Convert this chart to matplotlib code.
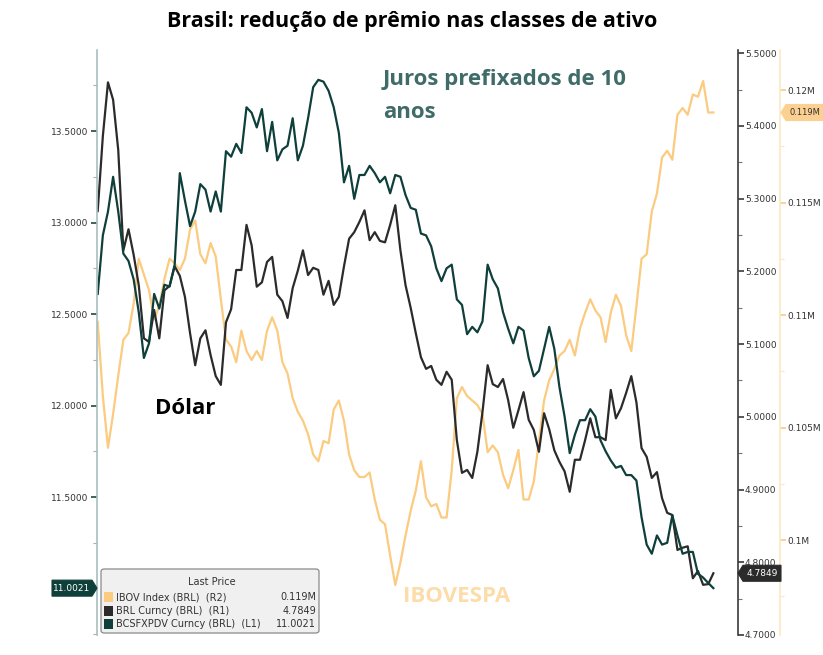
import matplotlib.pyplot as plt
import matplotlib.ticker as mticker
from matplotlib.patches import FancyBboxPatch, Polygon

# semanal, mesmo eixo de datas para as tres series
bcsfxpdv = [12.61, 12.93, 13.06, 13.25, 13.06, 12.83, 12.79, 12.69, 12.51, 12.26,
            12.34, 12.61, 12.53, 12.66, 12.65, 12.77, 13.27, 13.12, 12.98, 13.06,
            13.21, 13.18, 13.06, 13.17, 13.06, 13.39, 13.36, 13.43, 13.38, 13.63,
            13.60, 13.52, 13.62, 13.39, 13.55, 13.34, 13.40, 13.42, 13.57, 13.34,
            13.42, 13.57, 13.74, 13.78, 13.77, 13.72, 13.63, 13.49, 13.22, 13.31,
            13.13, 13.26, 13.26, 13.31, 13.27, 13.22, 13.25, 13.16, 13.26, 13.25,
            13.15, 13.08, 13.07, 12.94, 12.93, 12.87, 12.75, 12.68, 12.75, 12.77,
            12.58, 12.55, 12.39, 12.43, 12.40, 12.46, 12.77, 12.69, 12.64, 12.51,
            12.42, 12.34, 12.43, 12.41, 12.26, 12.16, 12.19, 12.31, 12.43, 12.31,
            12.10, 11.94, 11.74, 11.84, 11.92, 11.92, 11.98, 11.94, 11.81, 11.75,
            11.70, 11.66, 11.67, 11.62, 11.62, 11.59, 11.39, 11.24, 11.19, 11.29,
            11.24, 11.25, 11.40, 11.29, 11.19, 11.20, 11.20, 11.08, 11.06, 11.03,
            11.0021]

brl = [5.283, 5.386, 5.460, 5.436, 5.367, 5.229, 5.258, 5.223, 5.181, 5.108,
       5.103, 5.147, 5.108, 5.174, 5.180, 5.207, 5.194, 5.165, 5.115, 5.071,
       5.108, 5.119, 5.085, 5.056, 5.044, 5.130, 5.148, 5.202, 5.202, 5.264,
       5.236, 5.179, 5.185, 5.213, 5.220, 5.168, 5.159, 5.136, 5.177, 5.201,
       5.229, 5.195, 5.205, 5.202, 5.168, 5.187, 5.154, 5.165, 5.207, 5.245,
       5.254, 5.268, 5.284, 5.243, 5.254, 5.242, 5.240, 5.264, 5.291, 5.229,
       5.181, 5.150, 5.115, 5.082, 5.066, 5.070, 5.051, 5.044, 5.062, 5.051,
       4.968, 4.923, 4.927, 4.916, 4.952, 5.007, 5.071, 5.045, 5.041, 5.052,
       5.023, 4.985, 5.009, 5.034, 4.996, 4.982, 4.952, 5.005, 4.983, 4.954,
       4.938, 4.925, 4.897, 4.941, 4.941, 4.968, 4.998, 4.972, 4.972, 4.968,
       5.037, 4.998, 5.012, 5.033, 5.056, 5.020, 4.957, 4.945, 4.916, 4.924,
       4.888, 4.868, 4.865, 4.817, 4.820, 4.822, 4.778, 4.788, 4.769, 4.770,
       4.7849]

ibov = [109700, 106400, 104100, 105600, 107300, 108900, 109200, 110500, 112500, 111800,
        111100, 109800, 110400, 111600, 112500, 112300, 112000, 112500, 113800, 114200,
        112700, 112300, 113200, 112600, 110700, 108900, 108600, 107900, 109300, 108400,
        108000, 108400, 108000, 109300, 109900, 109300, 107900, 107400, 106300, 105700,
        105300, 104700, 103800, 103500, 104400, 104300, 105800, 106200, 105300, 103800,
        103100, 102800, 102800, 103000, 101800, 100900, 100700, 99300, 98000, 99000,
        100200, 101300, 102200, 103500, 101900, 101500, 101600, 101000, 101000, 103100,
        106300, 106800, 106400, 106200, 106000, 105600, 103900, 104200, 103900, 102900,
        102300, 103100, 104000, 101800, 101800, 102600, 104400, 106200, 107100, 107600,
        108200, 108400, 108900, 108200, 109400, 110100, 110700, 110200, 109900, 108800,
        110100, 110900, 110400, 109100, 108400, 110400, 112500, 112700, 114600, 115400,
        117000, 117300, 116900, 118900, 119200, 118900, 119800, 119700, 120400, 119000,
        119000]

semanas = list(range(len(bcsfxpdv)))

legenda = ['IBOV Index (BRL)  (R2)', 'BRL Curncy (BRL)  (R1)', 'BCSFXPDV Curncy (BRL)  (L1)']

teal = '#0f3f3b'
preto = '#2b2b2b'
ouro = '#fbcb80'

W, H = 823, 655
fig = plt.figure(figsize=(W / 100, H / 100), dpi=100)
fig.patch.set_facecolor('white')

ax = fig.add_axes([97 / W, 20 / H, 641 / W, 585 / H])
ax_r1 = ax.twinx()
ax_r2 = ax.twinx()

# ordem de desenho: ouro embaixo, teal em cima
ax_r2.set_zorder(1)
ax_r1.set_zorder(2)
ax.set_zorder(3)
ax.patch.set_visible(False)
ax_r1.patch.set_visible(False)

ax_r2.plot(semanas, ibov, color=ouro, lw=1.6)
ax_r1.plot(semanas, brl, color=preto, lw=1.6)
ax.plot(semanas, bcsfxpdv, color=teal, lw=1.6)

for a in (ax, ax_r1, ax_r2):
    a.set_xlim(-0.14, 124.8)
    a.spines['top'].set_visible(False)
    a.spines['bottom'].set_visible(False)
    a.tick_params(axis='x', bottom=False, labelbottom=False)

ax.set_ylim(10.746, 13.943)
ax_r1.set_ylim(4.700, 5.5045)
ax_r2.set_ylim(95778, 121778)

# eixo esquerdo (L1); o rotulo 11.0000 fica sob a etiqueta do ultimo preco
ax.spines['right'].set_visible(False)
ax.spines['left'].set_color('#a9bdbf')
ax.spines['left'].set_linewidth(1.2)
ax.yaxis.set_major_locator(mticker.MultipleLocator(0.5))
ax.yaxis.set_minor_locator(mticker.MultipleLocator(0.25))
ax.yaxis.set_major_formatter(mticker.FuncFormatter(
    lambda v, p: '' if abs(v - 11.0) < 1e-6 else f'{v:.4f}'))
ax.tick_params(axis='y', which='major', length=4, width=1.2, color='#1d4a47',
               labelsize=6.5, labelcolor='#333333', pad=2)
ax.tick_params(axis='y', which='minor', length=3, width=0.8, color='#9fb3b5')

# eixo direito R1
ax_r1.spines['left'].set_visible(False)
ax_r1.spines['right'].set_color('#3a3a3a')
ax_r1.spines['right'].set_linewidth(1.2)
ax_r1.yaxis.set_major_locator(mticker.MultipleLocator(0.1))
ax_r1.yaxis.set_minor_locator(mticker.MultipleLocator(0.05))
ax_r1.yaxis.set_major_formatter(mticker.FormatStrFormatter('%.4f'))
ax_r1.tick_params(axis='y', which='major', length=4, width=1.2, color='#3a3a3a',
                  labelsize=6.5, labelcolor='#333333', pad=1)
ax_r1.tick_params(axis='y', which='minor', length=3, width=0.8, color='#777777')

# eixo direito R2
ax_r2.spines['left'].set_visible(False)
ax_r2.spines['right'].set_position(('axes', 683 / 641))
ax_r2.spines['right'].set_color('#fde8c4')
ax_r2.spines['right'].set_linewidth(1.2)
ax_r2.yaxis.set_major_locator(mticker.MultipleLocator(5000))
ax_r2.yaxis.set_minor_locator(mticker.MultipleLocator(2500))
ax_r2.yaxis.set_major_formatter(mticker.FuncFormatter(lambda v, p: f'{v / 1e6:g}M'))
ax_r2.tick_params(axis='y', which='major', length=4, width=1.2, color=ouro,
                  labelsize=6.5, labelcolor='#333333', pad=1)
ax_r2.tick_params(axis='y', which='minor', length=3, width=0.8, color='#fde8c4')

fig.canvas.draw()


def etiqueta(a, valor, x0, x1, cor, cor_txt, texto, aponta, fs=6.5):
    # marcador do ultimo preco (caixa com ponta)
    _, y = a.transData.transform((0, valor))
    h = 8
    if aponta == 'dir':
        pts = [(x0, y - h), (x1 - 5, y - h), (x1, y), (x1 - 5, y + h), (x0, y + h)]
        tx = (x0 + x1 - 5) / 2
    else:
        pts = [(x0, y), (x0 + 5, y - h), (x1, y - h), (x1, y + h), (x0 + 5, y + h)]
        tx = (x0 + 5 + x1) / 2
    fig.patches.append(Polygon(pts, closed=True, transform=None, facecolor=cor,
                               edgecolor=cor, lw=0.8, zorder=10))
    fig.text(tx / W, y / H, texto, ha='center', va='center', color=cor_txt,
             fontsize=fs, zorder=11)


etiqueta(ax, bcsfxpdv[-1], 52, 97, teal, 'white', f'{bcsfxpdv[-1]:.4f}', 'dir')
etiqueta(ax_r1, brl[-1], 738, 781, preto, 'white', f'{brl[-1]:.4f}', 'esq')
etiqueta(ax_r2, ibov[-1], 781, 823, '#fcd090', '#333333', f'{ibov[-1] / 1e6:.3f}M',
         'esq', fs=6.0)

# titulo e anotacoes
fig.text(412 / W, 1 - 22 / H, 'Brasil: redução de prêmio nas classes de ativo',
         ha='center', va='center', fontsize=15.5, fontweight='bold',
         family='Open Sans', color='black')
fig.text(383 / W, 1 - 80 / H, 'Juros prefixados de 10', ha='left', va='center',
         fontsize=16, fontweight='bold', family='Open Sans', color='#3f6b68')
fig.text(383 / W, 1 - 112 / H, 'anos', ha='left', va='center',
         fontsize=16, fontweight='bold', family='Open Sans', color='#3f6b68')
fig.text(155 / W, 1 - 409 / H, 'Dólar', ha='left', va='center',
         fontsize=16, fontweight='bold', family='Open Sans', color='black')
fig.text(403 / W, 1 - 597 / H, 'IBOVESPA', ha='left', va='center',
         fontsize=16, fontweight='bold', family='Open Sans', color='#fcdca8')

# caixa de legenda (Last Price)
caixa = FancyBboxPatch((101 / W, 1 - 633 / H), 218 / W, 64 / H,
                       boxstyle='round,pad=0,rounding_size=0.004',
                       transform=fig.transFigure, facecolor='#f0f0f0',
                       edgecolor='#8a8a8a', lw=0.9, zorder=20)
fig.patches.append(caixa)
fig.text(212 / W, 1 - 582 / H, 'Last Price', ha='center', va='center',
         fontsize=7, color='#333333', zorder=21)
valores = [f'{ibov[-1] / 1e6:.3f}M', f'{brl[-1]:.4f}', f'{bcsfxpdv[-1]:.4f}']
cores = [ouro, preto, teal]
for k, (nome, val, cor) in enumerate(zip(legenda, valores, cores)):
    yk = 1 - (597 + 13.5 * k) / H
    fig.patches.append(plt.Rectangle((104 / W, yk - 5 / H), 9 / W, 10 / H,
                                     transform=fig.transFigure, facecolor=cor,
                                     edgecolor='none', zorder=21))
    fig.text(116 / W, yk, nome, ha='left', va='center', fontsize=7,
             color='#333333', zorder=21)
    fig.text(316 / W, yk, val, ha='right', va='center', fontsize=7,
             color='#333333', zorder=21)

fig.savefig('out.png', dpi=100)
